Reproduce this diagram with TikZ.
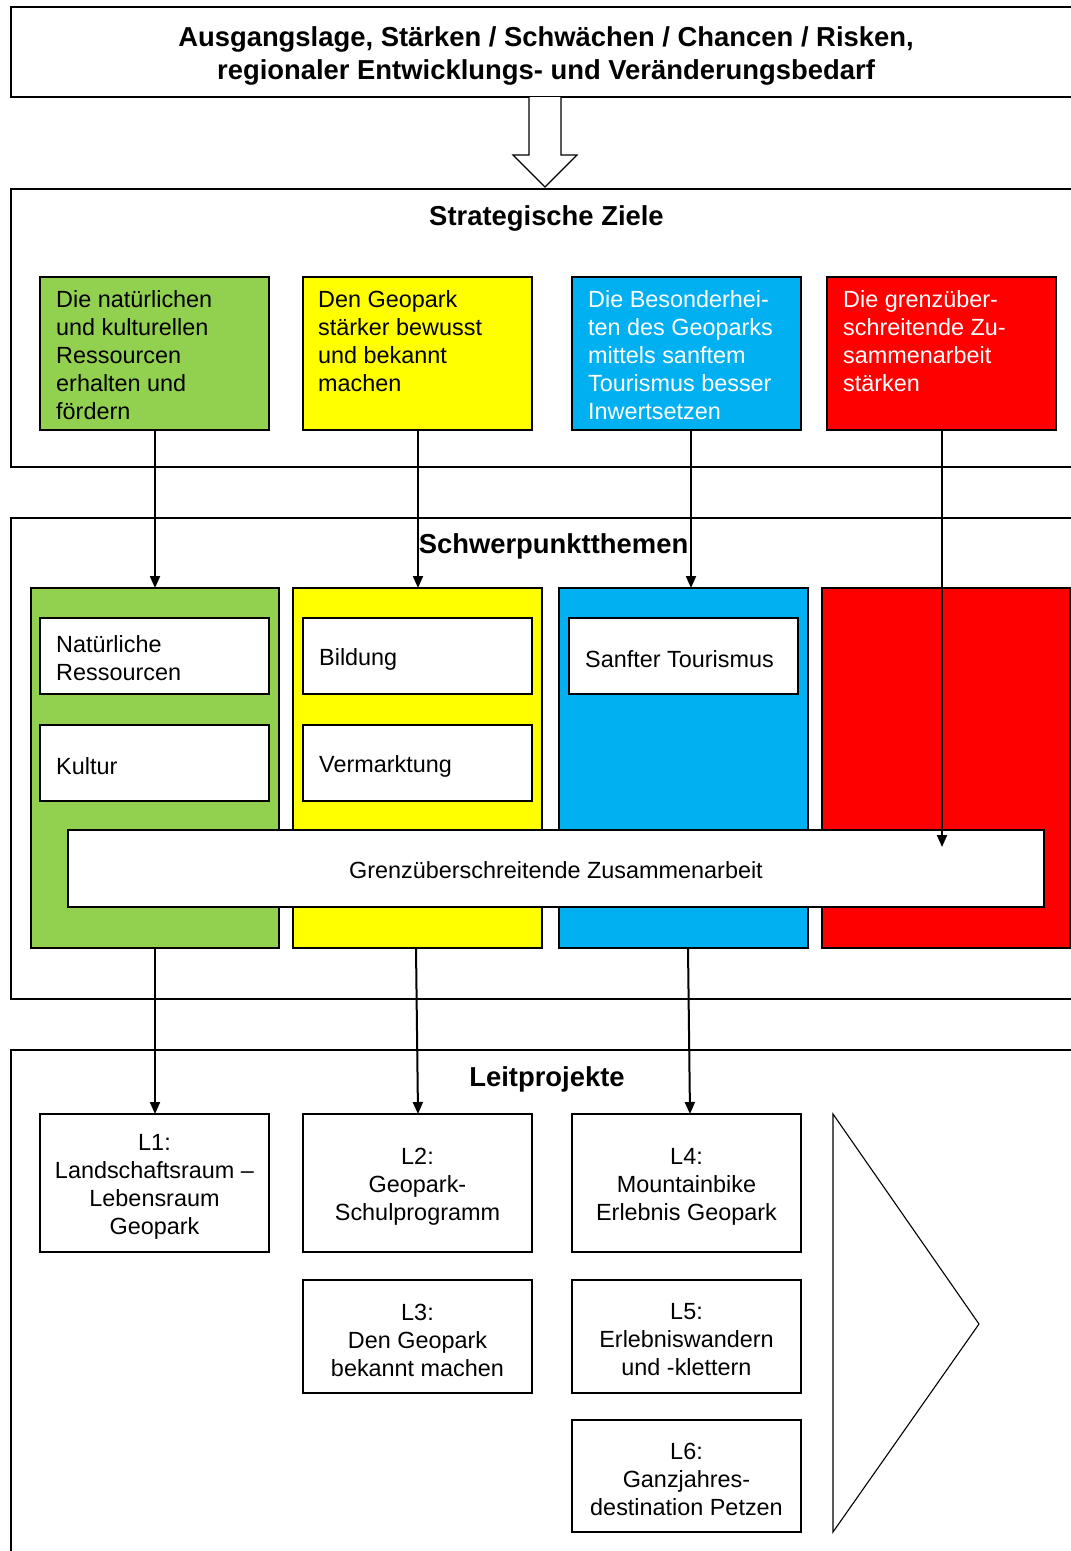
\documentclass[tikz,border=0pt]{standalone}
\usepackage{fontspec}
\setmainfont{Liberation Sans}
\usetikzlibrary{arrows.meta,calc}
\definecolor{cgreen}{HTML}{92D050}
\definecolor{cyellow}{HTML}{FFFF00}
\definecolor{cblue}{HTML}{00B0F0}
\definecolor{cred}{HTML}{FF0000}
\begin{document}
\begin{tikzpicture}[x=1pt,y=-1pt,
  bodyfont/.style={font=\fontsize{23.4}{28}\selectfont},
  titlefont/.style={font=\fontsize{27.4}{33}\selectfont\bfseries},
  plainbox/.style={draw, line width=1.2pt, rectangle, anchor=north west, inner sep=0pt, outer sep=0pt},
  stbox/.style={plainbox, minimum width=229pt, minimum height=153pt},
  stxt/.style={bodyfont, anchor=north west, inner sep=0pt, align=left},
  colbox/.style={plainbox, minimum height=360pt},
  inbox/.style={plainbox, fill=white, minimum width=229pt, minimum height=76pt},
  intxt/.style={bodyfont, anchor=west, inner sep=0pt, align=left},
  lbox/.style={plainbox, fill=white, minimum width=229pt},
  ltxt/.style={bodyfont, inner sep=0pt, align=center},
  arr/.style={-{Triangle[length=12pt,width=10pt]}, line width=2pt},
  titlenode/.style={titlefont, inner sep=0pt}
]
\useasboundingbox (0,0) rectangle (1071,1551);
\clip (0,0) rectangle (1071,1551);

% top box
\node[plainbox, minimum width=1100pt, minimum height=90pt] (top) at (11,7) {};
\node[titlenode, align=center] (toptxt) at (546,56) {Ausgangslage, Stärken / Schwächen / Chancen / Risken,\\regionaler Entwicklungs- und Veränderungsbedarf};

% block arrow
\draw[line width=1.1pt, fill=white] (529,97) -- (529,155) -- (513,155) -- (545,187) -- (577,155) -- (561,155) -- (561,97);

% Strategische Ziele
\node[plainbox, minimum width=1100pt, minimum height=278pt] (szframe) at (11,189) {};
\node[titlenode] (sztitle) at (546.5,218) {Strategische Ziele};

\node[stbox, fill=cgreen] (s1) at (40,277) {};
\node[stbox, fill=cyellow] (s2) at (303,277) {};
\node[stbox, fill=cblue] (s3) at (572,277) {};
\node[stbox, fill=cred] (s4) at (827,277) {};
\node[stxt] (s1t) at (56,290) {Die natürlichen\\und kulturellen\\Ressourcen\\erhalten und\\fördern};
\node[stxt] (s2t) at (318,290) {Den Geopark\\stärker bewusst\\und bekannt\\machen};
\node[stxt, text=white] (s3t) at (588,290) {Die Besonderhei-\\ten des Geoparks\\mittels sanftem\\Tourismus besser\\Inwertsetzen};
\node[stxt, text=white] (s4t) at (843,290) {Die grenzüber-\\schreitende Zu-\\sammenarbeit\\stärken};

% Schwerpunktthemen
\node[plainbox, minimum width=1100pt, minimum height=481pt] (spframe) at (11,518) {};
\node[titlenode] (sptitle) at (553.5,546) {Schwerpunktthemen};

\node[colbox, fill=cgreen, minimum width=248pt] (c1) at (31,588) {};
\node[colbox, fill=cyellow, minimum width=249pt] (c2) at (293,588) {};
\node[colbox, fill=cblue, minimum width=249pt] (c3) at (559,588) {};
\node[colbox, fill=cred, minimum width=248pt] (c4) at (822,588) {};

\node[inbox] (nat) at (40,618) {};
\node[inbox] (kul) at (40,725) {};
\node[inbox] (bil) at (303,618) {};
\node[inbox] (ver) at (303,725) {};
\node[inbox] (tou) at (569,618) {};
\node[intxt] (natt) at ([xshift=16pt,yshift=-2pt]nat.west) {Natürliche\\Ressourcen};
\node[intxt] (kult) at ([xshift=16pt,yshift=-3pt]kul.west) {Kultur};
\node[intxt] (bilt) at ([xshift=16pt,yshift=-3pt]bil.west) {Bildung};
\node[intxt] (vert) at ([xshift=16pt,yshift=-3pt]ver.west) {Vermarktung};
\node[intxt] (tout) at ([xshift=16pt,yshift=-3pt]tou.west) {Sanfter Tourismus};

\node[plainbox, fill=white, minimum width=976pt, minimum height=77pt] (grenz) at (68,830) {};
\node[bodyfont, inner sep=0pt] (grenzt) at (556,870) {Grenzüberschreitende Zusammenarbeit};

% Leitprojekte
\node[plainbox, minimum width=1100pt, minimum height=600pt] (lpframe) at (11,1050) {};
\node[titlenode] (lptitle) at (547,1079) {Leitprojekte};

\node[lbox, minimum height=138pt] (L1) at (40,1114) {};
\node[lbox, minimum height=138pt] (L2) at (303,1114) {};
\node[lbox, minimum height=138pt] (L4) at (572,1114) {};
\node[lbox, minimum height=113pt] (L3) at (303,1280) {};
\node[lbox, minimum height=113pt] (L5) at (572,1280) {};
\node[lbox, minimum height=112pt] (L6) at (572,1420) {};
\node[ltxt] (L1t) at ([yshift=-3.5pt]L1.center) {L1:\\Landschaftsraum –\\Lebensraum\\Geopark};
\node[ltxt] (L2t) at ([yshift=-3.5pt]L2.center) {L2:\\Geopark-\\Schulprogramm};
\node[ltxt] (L4t) at ([yshift=-3.5pt]L4.center) {L4:\\Mountainbike\\Erlebnis Geopark};
\node[ltxt] (L3t) at ([yshift=-3.5pt]L3.center) {L3:\\Den Geopark\\bekannt machen};
\node[ltxt] (L5t) at ([yshift=-3.5pt]L5.center) {L5:\\Erlebniswandern\\und -klettern};
\node[ltxt] (L6t) at ([yshift=-3.5pt]L6.center) {L6:\\Ganzjahres-\\destination Petzen};

\draw[line width=1.1pt] (833,1114) -- (833,1532) -- (979,1324) -- cycle;

% connectors
\draw[arr] ([xshift=0.5pt]s1.south) -- ([xshift=0.5pt]s1.south |- c1.north);
\draw[arr] ([xshift=0.5pt]s2.south) -- ([xshift=0.5pt]s2.south |- c2.north);
\draw[arr] ([xshift=4.5pt]s3.south) -- ([xshift=4.5pt]s3.south |- c3.north);
\draw[arr] ([xshift=0.5pt]s4.south) -- ([xshift=0.5pt,yshift=-17pt]s4.south |- grenz.north);

\draw[arr] (c1.south) -- (c1.south |- L1.north);
\draw[arr] ([xshift=-1.5pt]c2.south) -- ([xshift=0.5pt]L2.north);
\draw[arr] ([xshift=4.5pt]c3.south) -- ([xshift=3.5pt]L4.north);
\end{tikzpicture}
\end{document}
